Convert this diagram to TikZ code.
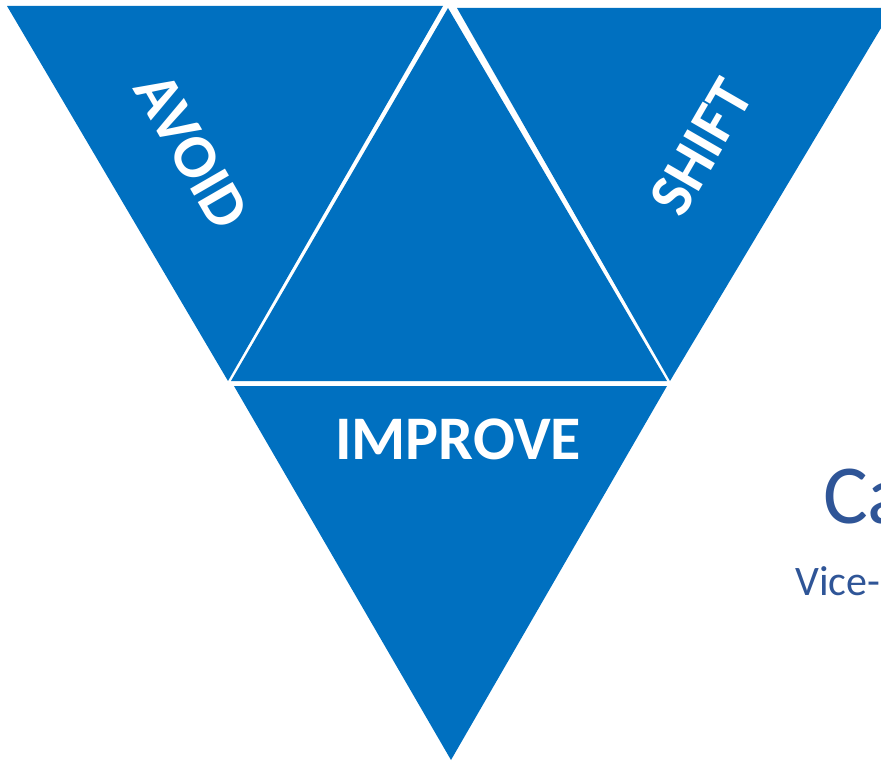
\documentclass[tikz,border=0pt]{standalone}
\usepackage{fontspec}
\setmainfont{Carlito}
\definecolor{triblue}{RGB}{0,112,192}
\definecolor{textblue}{RGB}{47,85,151}
\begin{document}
\begin{tikzpicture}[x=1pt,y=-1pt,
  tri/.style={fill=triblue,draw=none},
  lbl/.style={text=white,font=\fontsize{62}{64}\selectfont\bfseries,inner sep=0pt}]
\useasboundingbox (0,0) rectangle (881,762);
\clip (0,0) rectangle (881,762);
\fill[tri] (7,6) -- (443,6) -- (228,381) -- cycle;
\fill[tri] (448,8) -- (667,381) -- (231,381) -- cycle;
\fill[tri] (457,8) -- (893,8) -- (670,381) -- cycle;
\fill[tri] (234,386) -- (667,386) -- (451,760) -- cycle;
\node[lbl,rotate=-60] (avoid) at (192,151) {AVOID};
\node[lbl,rotate=60] (shift) at (701,147) {SHIFT};
\node[lbl] (improve) at (458,439) {IMPROVE};
\node[anchor=base west,inner sep=0pt,text=textblue,font=\fontsize{84}{86}\selectfont] (ca) at (823,523) {Ca};
\node[anchor=base west,inner sep=0pt,text=textblue,font=\fontsize{42}{44}\selectfont] (vice) at (795,595) {Vice-};
\end{tikzpicture}
\end{document}
